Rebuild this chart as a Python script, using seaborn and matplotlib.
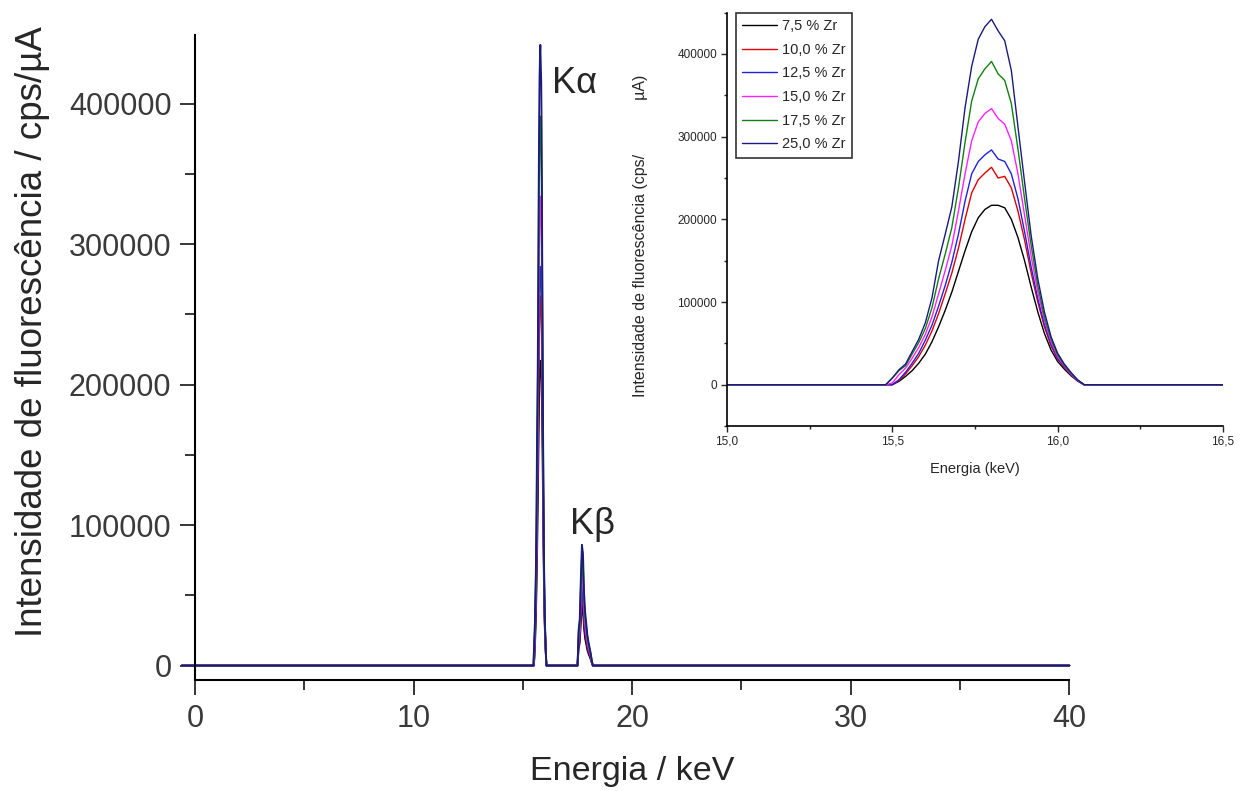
import numpy as np
import pandas as pd
import matplotlib
matplotlib.use("Agg")
import matplotlib.pyplot as plt
from matplotlib.ticker import MultipleLocator, FuncFormatter
import seaborn as sns

# amostras (teor de Zr) e cores
amostras = ["7,5 % Zr", "10,0 % Zr", "12,5 % Zr", "15,0 % Zr", "17,5 % Zr", "25,0 % Zr"]
cores = ["#000000", "#e00000", "#2020e0", "#ff20ff", "#108010", "#1a1a80"]

# energia (keV) da regiao K-alfa
ka_e = [15.46, 15.48, 15.50, 15.52, 15.54, 15.56, 15.58, 15.60, 15.62, 15.64, 15.66,
        15.68, 15.70, 15.72, 15.74, 15.76, 15.78, 15.80, 15.82, 15.84, 15.86, 15.88,
        15.90, 15.92, 15.94, 15.96, 15.98, 16.00, 16.02, 16.04, 16.06, 16.08, 16.10]

ka_75 = [0, 0, 0, 4000, 10000, 17000, 26000, 37000, 52000, 70000, 90000, 112000, 137000,
         162000, 185000, 202000, 212000, 217000, 217000, 214000, 200000, 178000, 150000,
         118000, 88000, 62000, 42000, 28000, 19000, 11000, 4500, 0, 0]
ka_100 = [0, 0, 0, 5000, 13000, 23000, 34000, 48000, 65000, 86000, 110000, 135000, 165000,
          200000, 232000, 248000, 256000, 263000, 250000, 252000, 238000, 210000, 175000,
          135000, 100000, 70000, 47000, 31000, 21000, 12000, 5000, 0, 0]
ka_125 = [0, 0, 0, 6000, 15000, 26000, 38000, 54000, 72000, 95000, 120000, 148000, 182000,
          222000, 255000, 270000, 278000, 284000, 273000, 270000, 255000, 225000, 185000,
          142000, 104000, 73000, 49000, 32000, 22000, 12500, 5000, 0, 0]
ka_150 = [0, 0, 2000, 12000, 20000, 32000, 45000, 61000, 82000, 110000, 138000, 168000, 210000,
          255000, 295000, 318000, 328000, 334000, 322000, 315000, 295000, 255000, 205000,
          155000, 112000, 78000, 52000, 34000, 23000, 13000, 5500, 0, 0]
ka_175 = [0, 0, 8000, 17000, 23000, 37000, 51000, 68000, 93000, 128000, 158000, 190000, 238000,
          293000, 343000, 370000, 382000, 391000, 376000, 368000, 340000, 285000, 225000,
          168000, 120000, 82000, 55000, 36000, 24000, 14000, 6000, 0, 0]
ka_250 = [0, 0, 8000, 18000, 25000, 40000, 55000, 75000, 105000, 150000, 182000, 215000, 270000,
          335000, 385000, 418000, 433000, 442000, 428000, 416000, 380000, 312000, 245000,
          180000, 128000, 88000, 58000, 38000, 25000, 15000, 6000, 0, 0]

# energia (keV) da regiao K-beta
kb_e = [17.50, 17.55, 17.60, 17.65, 17.70, 17.75, 17.80, 17.85, 17.90, 17.95, 18.00,
        18.05, 18.10, 18.15, 18.20]

kb_75 = [0, 12000, 16000, 30000, 43000, 40000, 26000, 19000, 15000, 11000, 8500, 6500, 4500, 2000, 0]
kb_100 = [0, 15000, 19000, 37000, 52000, 48000, 31000, 23000, 18000, 13500, 10000, 8000, 5500, 2500, 0]
kb_125 = [0, 17000, 21000, 40000, 56000, 52000, 34000, 25000, 20000, 15000, 11000, 9000, 6000, 2500, 0]
kb_150 = [0, 20000, 25000, 47000, 66000, 61000, 40000, 29000, 23000, 17000, 13000, 10000, 7000, 3000, 0]
kb_175 = [0, 23000, 29000, 55000, 77000, 71000, 46000, 34000, 27000, 20000, 15000, 12000, 8000, 3500, 0]
kb_250 = [0, 26000, 33000, 62000, 86000, 80000, 52000, 38000, 30000, 22000, 17000, 13000, 9000, 4000, 0]

# inicio e fim do espectro (linha de base)
e_ini, e_fim = -0.6, 40.0

ka_series = [ka_75, ka_100, ka_125, ka_150, ka_175, ka_250]
kb_series = [kb_75, kb_100, kb_125, kb_150, kb_175, kb_250]

frames = []
for nome, ka, kb in zip(amostras, ka_series, kb_series):
    frames.append(pd.DataFrame({
        "energia": [e_ini] + ka_e + kb_e + [e_fim],
        "intensidade": [0] + ka + kb + [0],
        "amostra": nome,
    }))
df = pd.concat(frames, ignore_index=True)
paleta = dict(zip(amostras, cores))

sns.set_theme(style="ticks")
plt.rcParams["font.family"] = ["Liberation Sans", "DejaVu Sans"]

fig = plt.figure(figsize=(12.42, 7.91), dpi=100)
ax = fig.add_axes([0.157, 0.1403, 0.704, 0.8155])

sns.lineplot(data=df, x="energia", y="intensidade", hue="amostra", hue_order=amostras,
             palette=paleta, estimator=None, sort=False, linewidth=1.3, legend=False, ax=ax)
for ln in ax.lines:
    ln.set_clip_on(False)

ax.set_xlim(0, 40)
ax.set_ylim(-10300, 449000)
ax.xaxis.set_major_locator(MultipleLocator(10))
ax.xaxis.set_minor_locator(MultipleLocator(5))
ax.yaxis.set_major_locator(MultipleLocator(100000))
ax.yaxis.set_minor_locator(MultipleLocator(50000))
ax.tick_params(which="major", length=11, width=1.3, labelsize=22, labelcolor="#3a3a3a", pad=6)
ax.tick_params(which="minor", length=7, width=1.3)
sns.despine(ax=ax)
for s in ["left", "bottom"]:
    ax.spines[s].set_linewidth(1.5)
    ax.spines[s].set_color("black")
ax.set_xlabel("Energia / keV", fontsize=24.5, labelpad=16)
ax.set_ylabel("Intensidade de fluorescência / cps/µA", fontsize=26.5)
ax.yaxis.set_label_coords(-0.166, 0.54)
ax.text(16.35, 402000, "Kα", fontsize=26, ha="left", va="bottom")
ax.text(17.15, 88000, "Kβ", fontsize=26, ha="left", va="bottom")

# inset com a regiao K-alfa
axi = fig.add_axes([0.5853, 0.4614, 0.3994, 0.5226])
sns.lineplot(data=df, x="energia", y="intensidade", hue="amostra", hue_order=amostras,
             palette=paleta, estimator=None, sort=False, linewidth=1.0, ax=axi)
axi.set_xlim(15.0, 16.5)
axi.set_ylim(-50000, 450000)
axi.xaxis.set_major_locator(MultipleLocator(0.5))
axi.xaxis.set_minor_locator(MultipleLocator(0.25))
axi.yaxis.set_major_locator(MultipleLocator(100000))
axi.yaxis.set_minor_locator(MultipleLocator(50000))
axi.xaxis.set_major_formatter(FuncFormatter(lambda v, p: f"{v:.1f}".replace(".", ",")))
axi.tick_params(which="major", length=4, width=1, labelsize=8.5, pad=3)
axi.tick_params(which="minor", length=2.5, width=1)
sns.despine(ax=axi)
for s in ["left", "bottom"]:
    axi.spines[s].set_linewidth(1.2)
    axi.spines[s].set_color("black")
axi.set_xlabel("Energia (keV)", fontsize=10.5, labelpad=10)
axi.set_ylabel("Intensidade de fluorescência (cps/            µA)", fontsize=11.5)
axi.yaxis.set_label_coords(-0.16, 0.46)

handles, labels = axi.get_legend_handles_labels()
leg = axi.legend(handles, labels, loc="upper left", bbox_to_anchor=(0.018, 1.0),
                 borderaxespad=0, fontsize=10.5, frameon=True, fancybox=False,
                 handlelength=2.4, labelspacing=0.66, borderpad=0.45, handletextpad=0.3)
leg.get_frame().set_edgecolor("black")
leg.get_frame().set_linewidth(1.2)

fig.savefig("out.png", dpi=100)
